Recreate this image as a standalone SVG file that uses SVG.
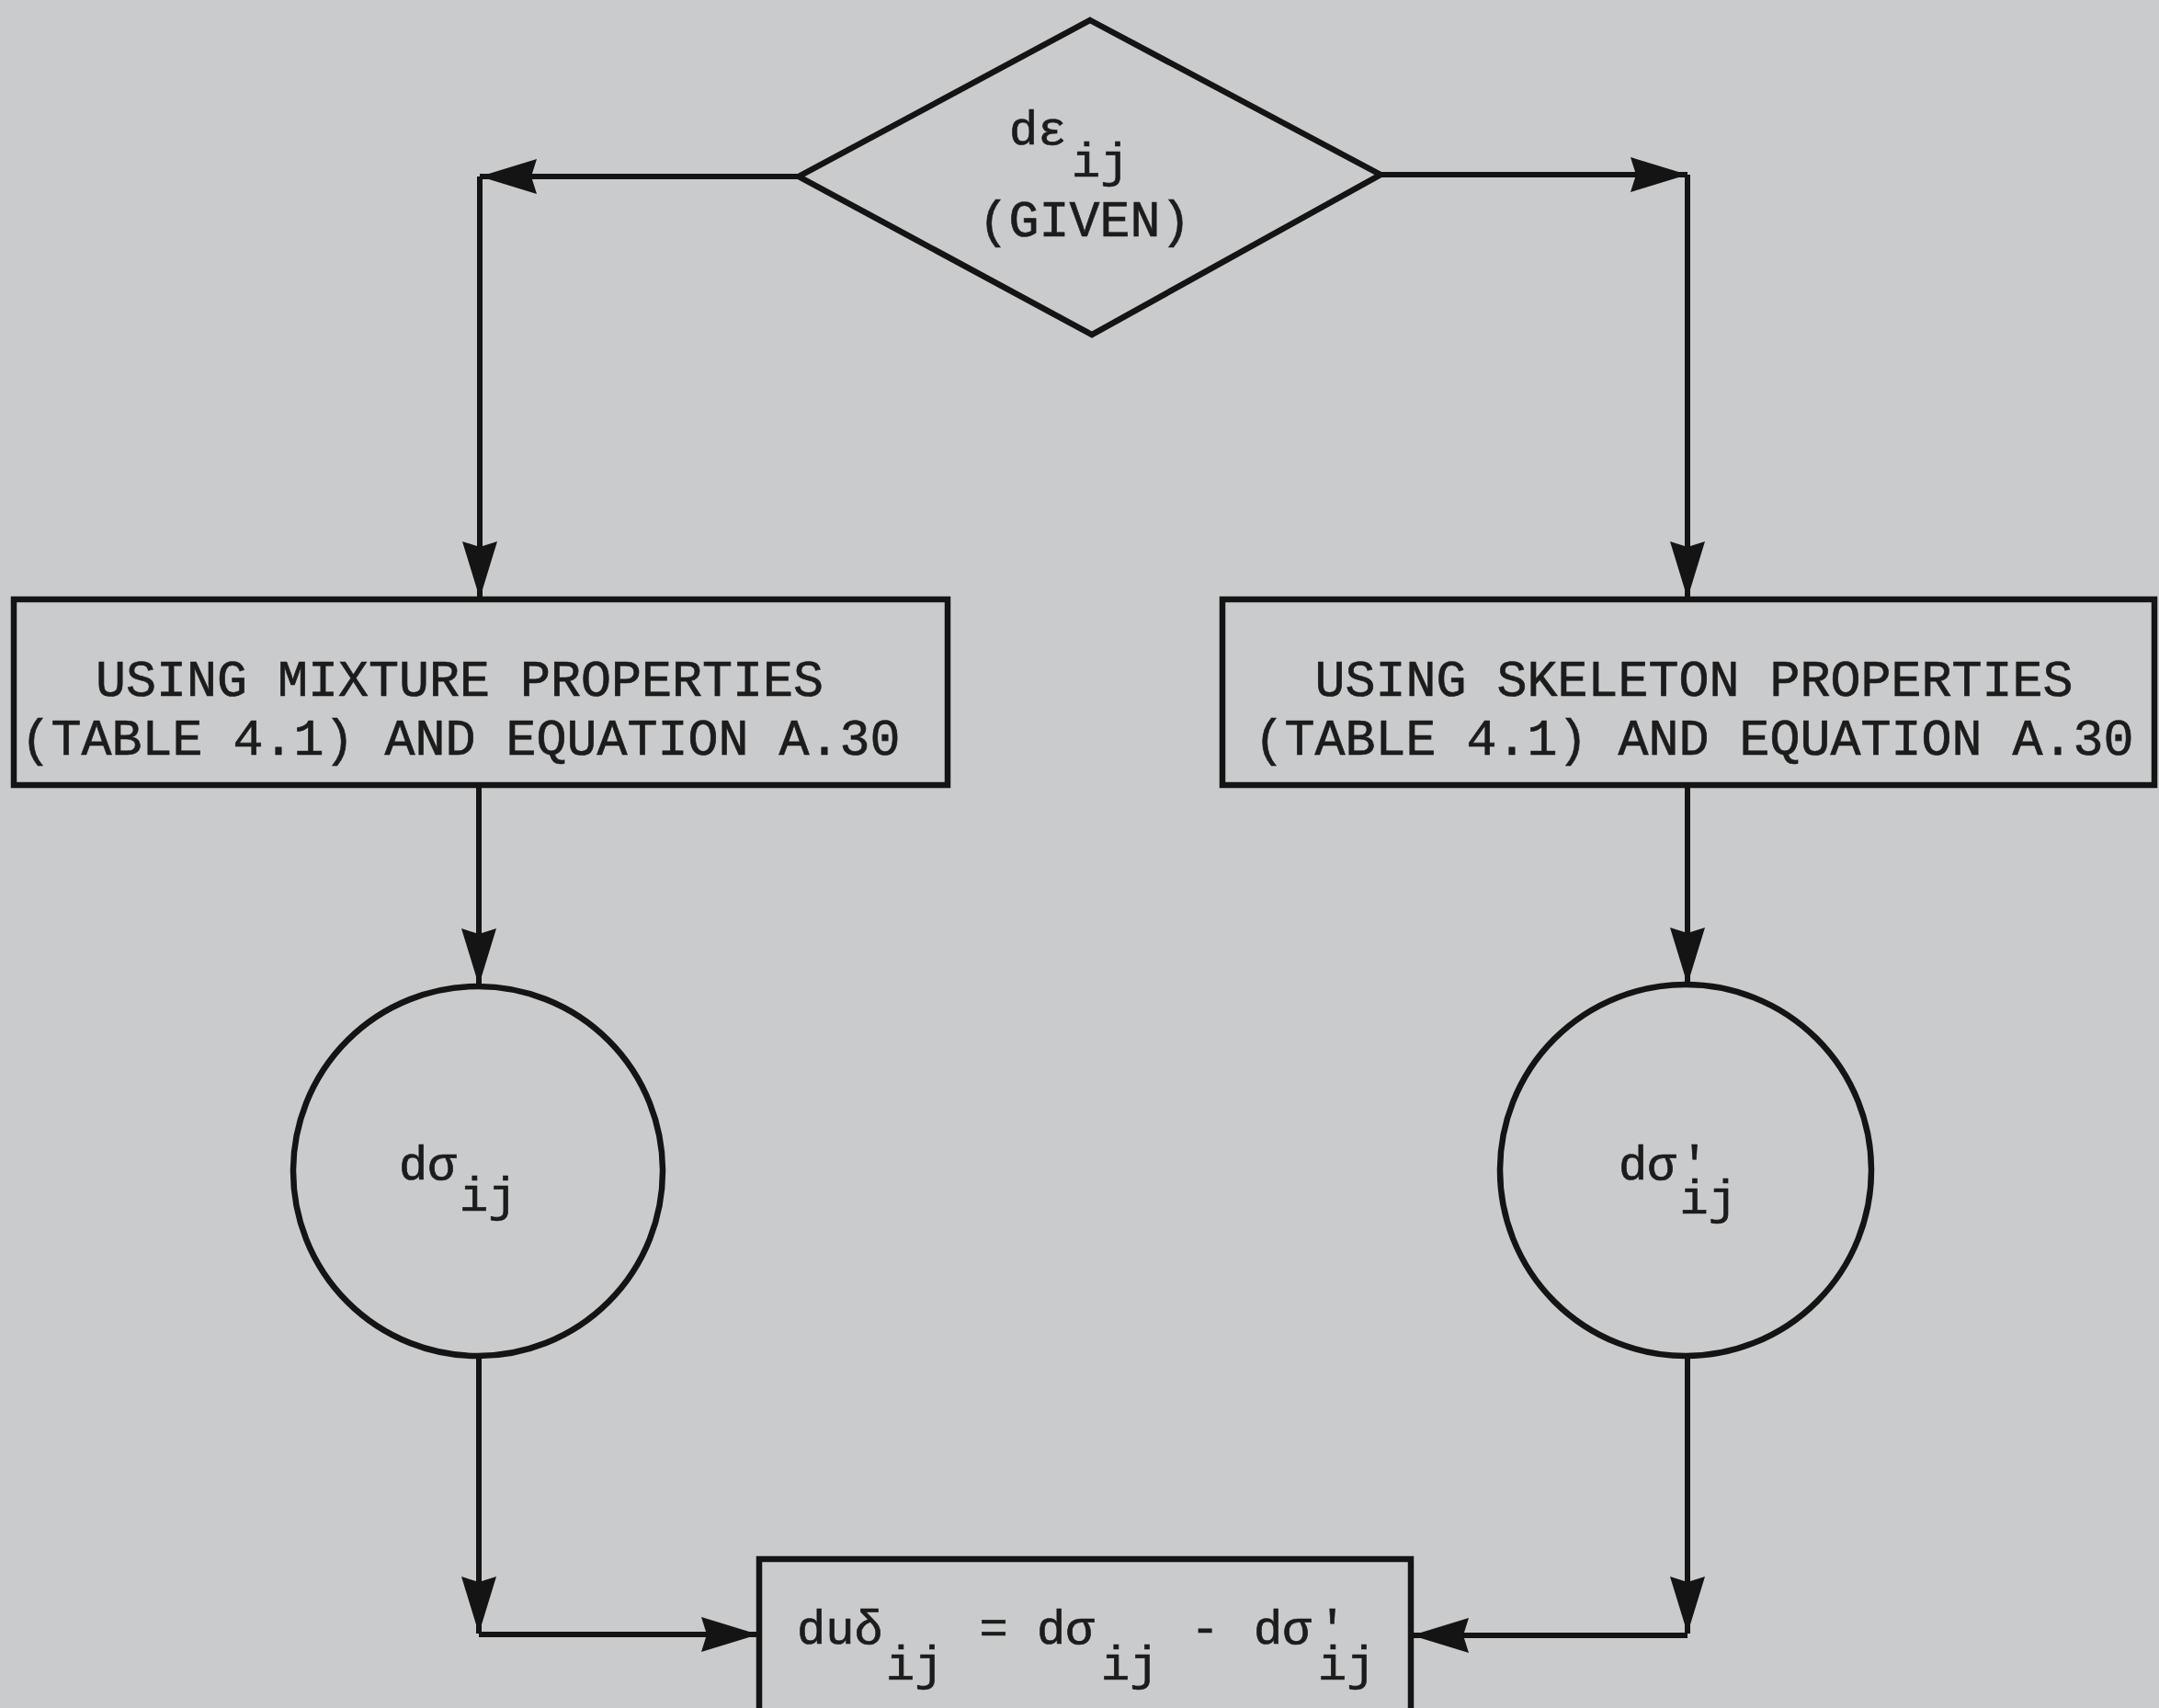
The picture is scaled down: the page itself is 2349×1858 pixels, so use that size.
<svg xmlns="http://www.w3.org/2000/svg" width="2349" height="1858" viewBox="0 0 2349 1858">
<style>
.shape{fill:none;stroke:#141414;stroke-width:6.5}
.conn{fill:none;stroke:#141414;stroke-width:6}
text{font-family:"Liberation Mono","DejaVu Sans Mono",monospace;fill:#1c1c1c;stroke:#1c1c1c;stroke-width:0.7}
.lbl{font-size:55px}
.m{font-size:52px}
</style>
<defs>
<marker id="arr" markerUnits="userSpaceOnUse" markerWidth="70" markerHeight="46" viewBox="-64 -23 66 46" refX="0" refY="0" orient="auto">
<path d="M0,0 L-62,-19 L-56,0 L-62,19 Z" fill="#141414"/>
</marker>
</defs>
<rect x="0" y="0" width="2349" height="1858" fill="#cacbcd"/>
<g id="connectors">
<path class="conn" d="M869,192 L522,192" marker-end="url(#arr)"/>
<path class="conn" d="M522,192 L522,651" marker-end="url(#arr)"/>
<path class="conn" d="M1502,190 L1836,190" marker-end="url(#arr)"/>
<path class="conn" d="M1836,190 L1836,651" marker-end="url(#arr)"/>
<path class="conn" d="M521,854 L521,1072" marker-end="url(#arr)"/>
<path class="conn" d="M1836,854 L1836,1071" marker-end="url(#arr)"/>
<path class="conn" d="M521,1475 L521,1777" marker-end="url(#arr)"/>
<path class="conn" d="M521,1778 L825,1778" marker-end="url(#arr)"/>
<path class="conn" d="M1836,1474 L1836,1777" marker-end="url(#arr)"/>
<path class="conn" d="M1836,1779 L1536,1779" marker-end="url(#arr)"/>
</g>
<g id="given">
<polygon class="shape" points="1186,22 1502,190 1188,364 869,192"/>
<text class="m" x="1098" y="157">dε</text>
<text class="m" x="1166" y="192">ij</text>
<text class="lbl" x="1180" y="257" text-anchor="middle">(GIVEN)</text>
</g>
<g id="mixture">
<rect class="shape" x="15" y="652" width="1016" height="202"/>
<text class="lbl" x="500" y="757" text-anchor="middle">USING MIXTURE PROPERTIES</text>
<text class="lbl" x="501" y="821" text-anchor="middle">(TABLE 4.1) AND EQUATION A.30</text>
</g>
<g id="skeleton">
<rect class="shape" x="1330" y="652" width="1014" height="202"/>
<text class="lbl" x="1843" y="757" text-anchor="middle">USING SKELETON PROPERTIES</text>
<text class="lbl" x="1843" y="821" text-anchor="middle">(TABLE 4.1) AND EQUATION A.30</text>
</g>
<g id="dsigma">
<circle class="shape" cx="520" cy="1274" r="201"/>
<text class="m" x="434" y="1283">dσ</text>
<text class="m" x="500" y="1317">ij</text>
</g>
<g id="dsigma-prime">
<circle class="shape" cx="1834" cy="1273" r="202"/>
<text class="m" x="1761" y="1283">dσ<tspan dx="4.6">'</tspan><tspan dx="-31.8" dy="37">ij</tspan></text>
</g>
<g id="result">
<rect class="shape" x="826" y="1696" width="709" height="250"/>
<text class="m" x="867" y="1788">duδ</text>
<text class="m" x="964" y="1827">ij</text>
<text class="m" x="1081" y="1788" text-anchor="middle">=</text>
<text class="m" x="1128" y="1788">dσ</text>
<text class="m" x="1198" y="1827">ij</text>
<text class="m" x="1311" y="1788" text-anchor="middle">-</text>
<text class="m" x="1364" y="1788">dσ<tspan dx="7.6">'</tspan><tspan dx="-31.2" dy="39">ij</tspan></text>
</g>
</svg>
